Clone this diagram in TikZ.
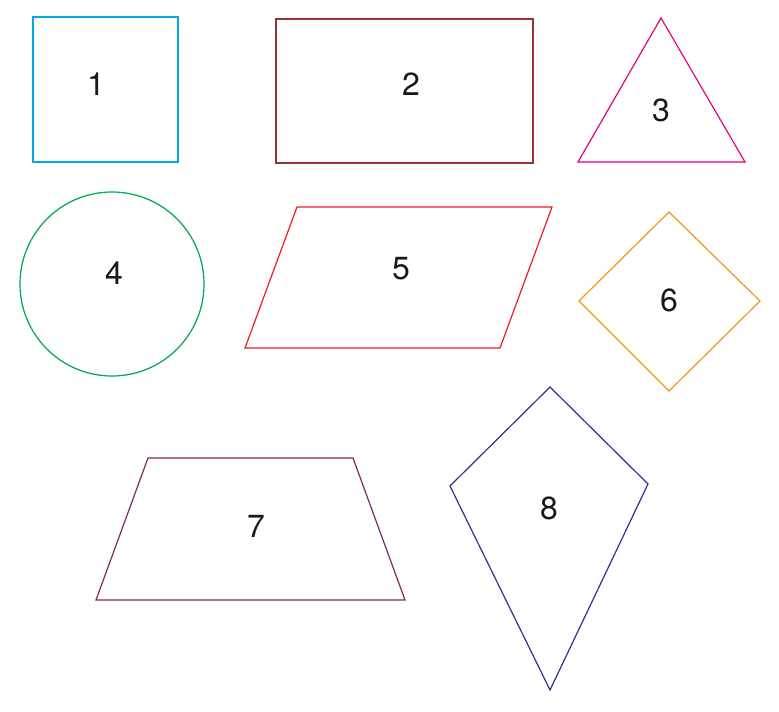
\documentclass[tikz,border=0pt]{standalone}
\usepackage{fontspec}
\setmainfont{TeX Gyre Heros}
\definecolor{c1}{RGB}{0,170,230}
\definecolor{c2}{RGB}{150,50,50}
\definecolor{c3}{RGB}{230,0,126}
\definecolor{c4}{RGB}{0,166,81}
\definecolor{c5}{RGB}{237,28,36}
\definecolor{c6}{RGB}{247,148,29}
\definecolor{c7}{RGB}{128,40,100}
\definecolor{c8}{RGB}{46,49,146}
\begin{document}
\begin{tikzpicture}[x=1pt,y=-1pt,
  shp/.style={line width=1.2pt},
  lbl/.style={font=\fontsize{32}{36}\selectfont, text=black!90, inner sep=0pt}]
\useasboundingbox (0,0) rectangle (779,712);
\draw[shp,c1] (33,17) rectangle (178,162);
\node[lbl] (n1) at (96,84) {1};
\draw[shp,c2] (276,19) rectangle (533,163);
\node[lbl] (n2) at (411,84) {2};
\draw[shp,c3] (661,18) -- (745,162) -- (578,162) -- cycle;
\node[lbl] (n3) at (661,110) {3};
\draw[shp,c4] (112,284) circle (92);
\node[lbl] (n4) at (114,273) {4};
\draw[shp,c5] (297,207) -- (552,207) -- (500,348) -- (245,348) -- cycle;
\node[lbl] (n5) at (401,269) {5};
\draw[shp,c6] (669,212) -- (760,301) -- (669,391) -- (579,301) -- cycle;
\node[lbl] (n6) at (669,300) {6};
\draw[shp,c7] (148,458) -- (353,458) -- (405,600) -- (96,600) -- cycle;
\node[lbl] (n7) at (256,526) {7};
\draw[shp,c8] (550,387) -- (648,484) -- (550,690) -- (450,486) -- cycle;
\node[lbl] (n8) at (549,508) {8};
\end{tikzpicture}
\end{document}
